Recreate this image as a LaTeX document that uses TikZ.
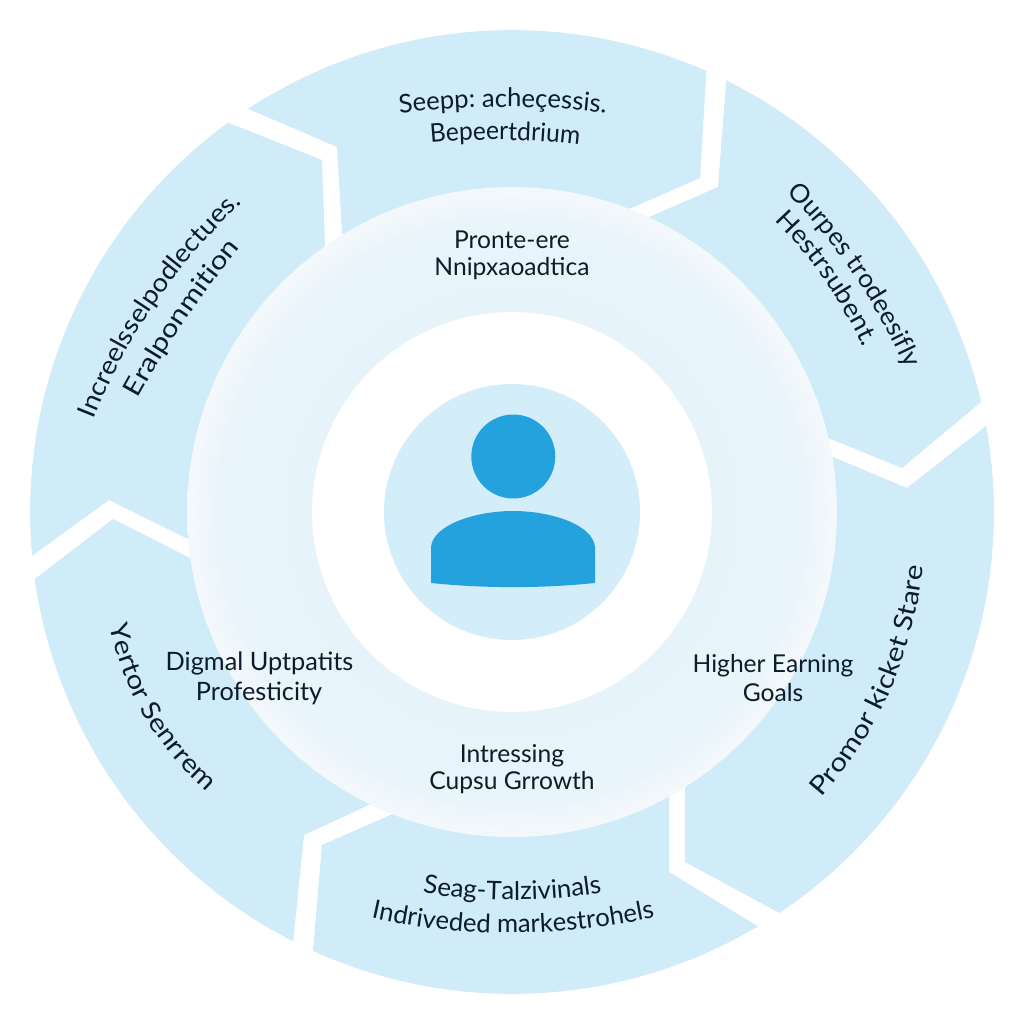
\documentclass[tikz,border=0pt]{standalone}
\usepackage{fontspec}
\setmainfont{Lato}
\usetikzlibrary{decorations.text}

\definecolor{segfill}{HTML}{D0ECF8}
\definecolor{discfill}{HTML}{D4EEF9}
\definecolor{personblue}{HTML}{24A2DE}
\definecolor{ink}{HTML}{0C1C28}
\definecolor{ringa}{HTML}{E6F3FA}
\definecolor{ringb}{HTML}{E9F5FB}
\definecolor{ringc}{HTML}{F0F7FB}
\definecolor{ringd}{HTML}{F3F8FB}

% Soft band between the white core and the rim of the middle ring
\pgfdeclareradialshading{ringglow}{\pgfpoint{0bp}{0bp}}{%
  color(0bp)=(ringa); color(15.4bp)=(ringa); color(22.6bp)=(ringb);
  color(24bp)=(ringc); color(25bp)=(ringd); color(50bp)=(ringd)}

\newcommand{\labelfont}{\fontsize{14}{16}\selectfont}

% One line of text on a gently bowed baseline: letter stretch, text, start, bow
% control, end. The baseline runs past both ends so that no letter gets dropped.
\newcommand{\curvedline}[8][1]{%
  \pgfmathsetmacro{\sx}{1.21*#3-0.22*#5+0.01*#7}%
  \pgfmathsetmacro{\sy}{1.21*#4-0.22*#6+0.01*#8}%
  \pgfmathsetmacro{\ex}{1.21*#7-0.22*#5+0.01*#3}%
  \pgfmathsetmacro{\ey}{1.21*#8-0.22*#6+0.01*#4}%
  \pgfmathsetmacro{\mx}{-0.11*#3+1.22*#5-0.11*#7}%
  \pgfmathsetmacro{\my}{-0.11*#4+1.22*#6-0.11*#8}%
  \path[decorate,decoration={text along path,text align=center,
      text={|\fontsize{14.6}{16}\selectfont\addfontfeature{FakeStretch=#1}\color{ink}|#2}}]
    (\sx,\sy) .. controls ({\sx+2/3*(\mx-\sx)},{\sy+2/3*(\my-\sy)})
      and ({\ex+2/3*(\mx-\ex)},{\ey+2/3*(\my-\ey)}) .. (\ex,\ey);%
}

\tikzset{
  segment/.style={fill=segfill,draw=none},
  ringlabel/.style={text=ink,font=\labelfont,inner sep=0pt,anchor=center},
}

\begin{document}
\begin{tikzpicture}[x=0.02cm,y=-0.02cm]
  \path[use as bounding box,fill=white] (0,0) rectangle (1024,1024);

  % Six chevron segments of the outer ring (radius 482 units)
  \path[segment] ([shift={(123.2:9.64cm)}]512,512) arc[start angle=123.2,end angle=66.2,radius=9.64cm]
    -- (700,178) -- (627,210) -- (512,400) -- (342,233) -- (337,147) -- cycle;
  \path[segment] ([shift={(63.6:9.64cm)}]512,512) arc[start angle=63.6,end angle=13.2,radius=9.64cm]
    -- (902,468) -- (828,438) -- (600,400) -- (647,218) -- (718,187) -- cycle;
  \path[segment] ([shift={(10.3:9.64cm)}]512,512) arc[start angle=10.3,end angle=-56.3,radius=9.64cm]
    -- (685,862) -- (685,785) -- (640,600) -- (833,457) -- (907,488) -- cycle;
  \path[segment] ([shift={(-59.3:9.64cm)}]512,512) arc[start angle=-59.3,end angle=-114.4,radius=9.64cm]
    -- (322,845) -- (395,813) -- (512,650) -- (669,795) -- (669,872) -- cycle;
  \path[segment] ([shift={(-117:9.64cm)}]512,512) arc[start angle=-117,end angle=-172,radius=9.64cm]
    -- (113,519) -- (190,558) -- (400,620) -- (373,803) -- (304,835) -- cycle;
  \path[segment] ([shift={(185.2:9.64cm)}]512,512) arc[start angle=185.2,end angle=126.1,radius=9.64cm]
    -- (322,160) -- (325,247) -- (400,420) -- (188,539) -- (109,500) -- cycle;

  % Middle ring, white core and central disc
  \shade[shading=ringglow] (512,512) circle[radius=6.5cm];
  \fill[white] (512,512) circle[radius=4cm];
  \fill[discfill] (512,512) circle[radius=2.56cm];

  % Person icon
  \fill[personblue] (513.3,456.5) circle[radius=0.84cm];
  \fill[personblue] (431,583) -- (431,547)
    .. controls (433,525) and (475,511) .. (513,511)
    .. controls (552,511) and (593,525) .. (595,547)
    -- (595,583) .. controls (541,588.5) and (485,588.5) .. cycle;

  % Labels on the middle ring
  \node[ringlabel] (pronta) at (512,240) {Pronte-ere};
  \node[ringlabel] (prontb) at (512,269) {Nnipxaoadtica};
  \node[ringlabel] (digmala) at (259.5,663) {\fontsize{14.4}{16}\selectfont Digmal Uptpatits};
  \node[ringlabel] (digmalb) at (259,693) {\fontsize{14.4}{16}\selectfont Profesticity};
  \node[ringlabel] (highera) at (773,666) {Higher Earning};
  \node[ringlabel] (higherb) at (773,693) {Goals};
  \node[ringlabel] (intra) at (512,755.5) {Intressing};
  \node[ringlabel] (intrb) at (512,783) {Cupsu Grrowth};

  % Labels on the outer segments
  \curvedline{Seepp: acheçessis.}{400}{113}{507}{101}{607}{113}
  \curvedline[0.96]{Bepeertdrium}{430}{143}{505}{136}{580}{145}
  \curvedline[1.02]{Ourpes trodeesifly}{792}{198}{861}{271}{903}{362}
  \curvedline[1.07]{Hestrsubent.}{777}{223}{830}{277}{862}{345}
  \curvedline[1.15]{Promor kicket Stare}{822}{797}{909}{698}{923}{567}
  \curvedline[1.01]{Seag-Talzivinals}{423}{893}{513}{907}{602}{893}
  \curvedline{Indriveded markestrohels}{372}{918}{507}{948}{652}{918}
  \curvedline[1.13]{Yertor Senrrem}{110}{627}{130}{722}{205}{790}
  \curvedline[1.07]{Increelsselpodlectues.}{95}{417}{144}{295}{240}{205}
  \curvedline[1.16]{Eralponmition}{138}{398}{182}{318}{240}{248}
\end{tikzpicture}
\end{document}
